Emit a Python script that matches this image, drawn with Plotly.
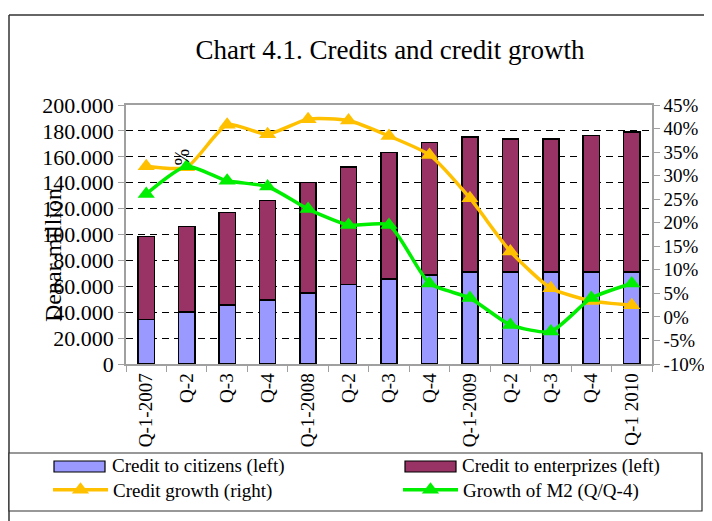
import plotly.graph_objects as go

# quarters Q1-2007 .. Q1-2010
quarters = ["Q-1-2007", "Q-2", "Q-3", "Q-4", "Q-1-2008", "Q-2", "Q-3", "Q-4",
            "Q-1-2009", "Q-2", "Q-3", "Q-4", "Q-1 2010"]

# denar million
citizens = [34500, 40200, 45600, 49400, 54800, 61500, 65600, 68700,
            71000, 71000, 71000, 71000, 71000]
total_credit = [98300, 106000, 116800, 126400, 140000, 152000, 163200, 171200,
                175300, 173700, 173700, 176600, 179100]
enterprises = [t - c for t, c in zip(total_credit, citizens)]

# percent, right axis
credit_growth = [32.0, 31.8, 40.8, 38.8, 42.0, 41.7, 38.4, 34.4,
                 25.2, 13.9, 6.1, 3.4, 2.5]
m2_growth = [26.1, 32.0, 28.9, 27.7, 22.9, 19.5, 19.5, 7.1,
             4.0, -1.7, -3.1, 4.0, 7.1]

pct_ticks = list(range(-10, 50, 5))
pct_labels = [f"{v}%" for v in pct_ticks]

FONT = "Liberation Serif"
W, H = 712, 521
OFF = 8  # page body margin: figure starts 8px in
# plot area in page pixels: x 126..652, y 105..364
L, R, T, B = 126 - OFF, W - (652 - OFF), 105 - OFF, H - (364 - OFF)
PW, PH = W - L - R, H - T - B


def px_x(px):
    # page pixel -> paper x
    return (px - OFF - L) / PW


def px_y(py):
    # page pixel -> paper y
    return (H - B - (py - OFF)) / PH


x = list(range(len(quarters)))
fig = go.Figure()
fig.add_trace(go.Bar(x=x, y=citizens, name="Credit to citizens (left)",
                     marker=dict(color="#9999FF", line=dict(color="black", width=1.5)),
                     showlegend=False))
fig.add_trace(go.Bar(x=x, y=enterprises, name="Credit to enterprizes (left)",
                     marker=dict(color="#993366", line=dict(color="black", width=1.5)),
                     showlegend=False))
fig.add_trace(go.Scatter(x=x, y=credit_growth, yaxis="y2", name="Credit growth (right)",
                         mode="lines+markers", line=dict(color="#FFC000", width=3.5, shape="spline", smoothing=0.6),
                         marker=dict(symbol="triangle-up", size=15, color="#FFC000"),
                         legend="legend"))
fig.add_trace(go.Scatter(x=x, y=m2_growth, yaxis="y2", name="Growth of M2 (Q/Q-4)",
                         mode="lines+markers", line=dict(color="#00EE00", width=3.5, shape="spline", smoothing=0.6),
                         marker=dict(symbol="triangle-up", size=15, color="#00EE00"),
                         legend="legend2"))

axis_gray = "#A0A0A0"
fig.update_layout(
    width=W, height=H,
    margin=dict(l=L, r=R, t=T, b=B),
    paper_bgcolor="white", plot_bgcolor="white",
    font=dict(family=FONT, color="black", size=19),
    separators=",.",
    barmode="stack", bargap=0.6,
    title=dict(text="Chart 4.1. Credits and credit growth", x=(390 - OFF) / W, xanchor="center",
               y=1 - (50 - OFF) / H, yanchor="middle", font=dict(size=27, family=FONT)),
    xaxis=dict(range=[-0.5, 12.5], tickvals=x, ticktext=quarters, tickangle=-90,
               showline=True, linecolor=axis_gray, linewidth=1.5, mirror=True,
               ticks="", showgrid=False, tickfont=dict(size=19),
               minor=dict(tick0=-0.5, dtick=1, ticks="outside", ticklen=6, tickcolor=axis_gray)),
    yaxis=dict(range=[0, 200000], dtick=20000, tickformat=",", showgrid=True,
               gridcolor="black", griddash="7px,5px", gridwidth=1, zeroline=False,
               showline=True, linecolor=axis_gray, linewidth=1.5,
               ticks="outside", ticklen=6, tickcolor=axis_gray, tickfont=dict(size=22)),
    yaxis2=dict(range=[-10, 45], overlaying="y", side="right", tickvals=pct_ticks,
                ticktext=pct_labels, showgrid=False, zeroline=False,
                showline=True, linecolor=axis_gray, linewidth=1.5,
                ticks="outside", ticklen=6, tickcolor=axis_gray, tickfont=dict(size=19)),
    legend=dict(x=px_x(48), y=px_y(471), xanchor="left", yanchor="top",
                bgcolor="rgba(0,0,0,0)", itemwidth=55, font=dict(size=19)),
    legend2=dict(x=px_x(398), y=px_y(471), xanchor="left", yanchor="top",
                 bgcolor="rgba(0,0,0,0)", itemwidth=55, font=dict(size=19)),
)

shapes = [
    # outer frame
    dict(type="line", xref="paper", yref="paper", x0=px_x(9), x1=px_x(W + 10), y0=px_y(15), y1=px_y(15),
         line=dict(color="#333333", width=1.5)),
    dict(type="line", xref="paper", yref="paper", x0=px_x(9), x1=px_x(9), y0=px_y(15), y1=px_y(H + 10),
         line=dict(color="#333333", width=1.5)),
    # legend box
    dict(type="rect", xref="paper", yref="paper", x0=px_x(9), x1=px_x(702), y0=px_y(453), y1=px_y(511),
         line=dict(color="#333333", width=1.2), fillcolor="white", layer="above"),
    # bar swatches
    dict(type="rect", xref="paper", yref="paper", x0=px_x(54), x1=px_x(105), y0=px_y(461), y1=px_y(472),
         line=dict(color="black", width=1.2), fillcolor="#9999FF", layer="above"),
    dict(type="rect", xref="paper", yref="paper", x0=px_x(405), x1=px_x(456), y0=px_y(461), y1=px_y(472),
         line=dict(color="black", width=1.2), fillcolor="#993366", layer="above"),
]
fig.update_layout(shapes=shapes)

annotations = [
    dict(text="Credit to citizens (left)", x=px_x(110), y=px_y(466), xref="paper", yref="paper",
         xanchor="left", yanchor="middle", showarrow=False, font=dict(size=19)),
    dict(text="Credit to enterprizes (left)", x=px_x(460), y=px_y(466), xref="paper", yref="paper",
         xanchor="left", yanchor="middle", showarrow=False, font=dict(size=19)),
    dict(text="Denar million", x=px_x(38), y=px_y(255), xref="paper", yref="paper",
         textangle=-90, showarrow=False, font=dict(size=24)),
    dict(text="%", x=px_x(168), y=px_y(147), xref="paper", yref="paper",
         textangle=-90, showarrow=False, font=dict(size=20)),
]
fig.update_layout(annotations=annotations)

fig.write_html("out.html")
